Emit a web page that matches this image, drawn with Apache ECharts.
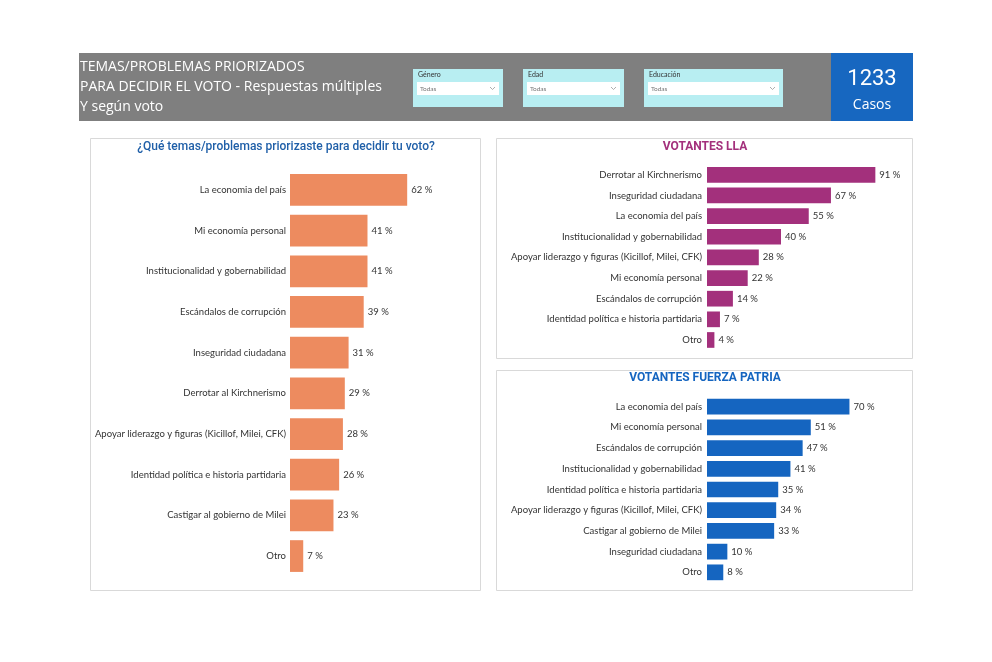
<!DOCTYPE html>
<html>
<head>
<meta charset="utf-8">
<script src="https://cdn.jsdelivr.net/npm/echarts@6/dist/echarts.min.js"></script>
<style>
html,body{margin:0;padding:0;background:#fff;}
#c{width:992px;height:662px;}
</style>
</head>
<body>
<div id="c"></div>
<script>
// ---- Data ----
var totalCategories = ["La economia del país","Mi economía personal","Institucionalidad y gobernabilidad","Escándalos de corrupción","Inseguridad ciudadana","Derrotar al Kirchnerismo","Apoyar liderazgo y figuras (Kicillof, Milei, CFK)","Identidad política e historia partidaria","Castigar al gobierno de Milei","Otro"];
var totalValues = [62,41,41,39,31,29,28,26,23,7];

var llaCategories = ["Derrotar al Kirchnerismo","Inseguridad ciudadana","La economia del país","Institucionalidad y gobernabilidad","Apoyar liderazgo y figuras (Kicillof, Milei, CFK)","Mi economía personal","Escándalos de corrupción","Identidad política e historia partidaria","Otro"];
var llaValues = [91,67,55,40,28,22,14,7,4];

var fpCategories = ["La economia del país","Mi economía personal","Escándalos de corrupción","Institucionalidad y gobernabilidad","Identidad política e historia partidaria","Apoyar liderazgo y figuras (Kicillof, Milei, CFK)","Castigar al gobierno de Milei","Inseguridad ciudadana","Otro"];
var fpValues = [70,51,47,41,35,34,33,10,8];

var filterLabels = ["Género","Edad","Educación"];
var filterValue = "Todas";
var casosCount = "1233";

// ---- Chart ----
var chart = echarts.init(document.getElementById('c'), null, {renderer:'canvas'});
var labelFont = 'Lato';
var titleFont = 'Roboto';

function yAx(idx, cats, margin){
  return {gridIndex:idx, type:'category', data:cats, inverse:true,
    axisLine:{show:false}, axisTick:{show:false},
    axisLabel:{margin:margin, fontSize:9.5, color:'#333', fontFamily:labelFont}};
}
function xAx(idx){
  return {gridIndex:idx, type:'value', min:0, max:100, show:false};
}
function ser(idx, vals, color, gap){
  return {type:'bar', xAxisIndex:idx, yAxisIndex:idx, data:vals, barCategoryGap:gap,
    itemStyle:{color:color}, silent:true,
    label:{show:true, position:'right', distance:4, formatter:'{c} %', fontSize:9.5, color:'#333', fontFamily:labelFont}};
}

var graphics = [
  {type:'rect', shape:{x:79,y:53,width:752,height:68}, style:{fill:'#7f7f7f'}, z:-10},
  {type:'text', left:80, top:57, style:{text:'TEMAS/PROBLEMAS PRIORIZADOS\nPARA DECIDIR EL VOTO - Respuestas múltiples\nY según voto', fill:'#fff', fontSize:14, lineHeight:20, fontFamily:'Open Sans'}},
  {type:'rect', shape:{x:831,y:53,width:82,height:68}, style:{fill:'#1767c0'}},
  {type:'text', x:872, y:79, style:{text:casosCount, fill:'#fff', fontSize:22, fontFamily:titleFont, align:'center', verticalAlign:'middle'}},
  {type:'text', x:872, y:105, style:{text:'Casos', fill:'#fff', fontSize:14, fontFamily:'Open Sans', align:'center', verticalAlign:'middle'}},
  // panels
  {type:'rect', shape:{x:90.5,y:138.5,width:390,height:452}, style:{fill:'#fff', stroke:'#d9d9d9', lineWidth:1}, z:-10},
  {type:'rect', shape:{x:496.5,y:138.5,width:416,height:220}, style:{fill:'#fff', stroke:'#d9d9d9', lineWidth:1}, z:-10},
  {type:'rect', shape:{x:496.5,y:370.5,width:416,height:220}, style:{fill:'#fff', stroke:'#d9d9d9', lineWidth:1}, z:-10},
  {type:'text', x:286, y:147, style:{text:'¿Qué temas/problemas priorizaste para decidir tu voto?', fill:'#1f5fa8', fontSize:12, fontWeight:500, fontFamily:titleFont, align:'center', verticalAlign:'middle'}},
  {type:'text', x:705, y:147, style:{text:'VOTANTES LLA', fill:'#a3307c', fontSize:12, fontWeight:'bold', fontFamily:titleFont, align:'center', verticalAlign:'middle'}},
  {type:'text', x:705, y:378, style:{text:'VOTANTES FUERZA PATRIA', fill:'#1565c0', fontSize:12, fontWeight:'bold', fontFamily:titleFont, align:'center', verticalAlign:'middle'}}
];
var filterBoxes = [[413,90],[523,101],[644,139]];
filterBoxes.forEach(function(b,i){
  var x=b[0], w=b[1];
  graphics.push({type:'rect', shape:{x:x,y:69,width:w,height:38}, style:{fill:'#b8eef2'}});
  graphics.push({type:'text', x:x+5, y:75, style:{text:filterLabels[i], fill:'#333', fontSize:7, fontFamily:labelFont, verticalAlign:'middle'}});
  graphics.push({type:'rect', shape:{x:x+4,y:82,width:w-8,height:13}, style:{fill:'#fff'}});
  graphics.push({type:'text', x:x+7, y:88.5, style:{text:filterValue, fill:'#777', fontSize:6.5, fontFamily:labelFont, verticalAlign:'middle'}});
  graphics.push({type:'polyline', shape:{points:[[x+w-13,87],[x+w-10.5,89.5],[x+w-8,87]]}, style:{stroke:'#999', lineWidth:0.8, fill:null}});
});

var option = {
  animation:false,
  backgroundColor:'#fff',
  grid:[
    {left:290, top:169.6, width:189, height:406.8},
    {left:707, top:164.5, width:185, height:185.8},
    {left:707, top:396.3, width:203.5, height:186.4}
  ],
  xAxis:[xAx(0), xAx(1), xAx(2)],
  yAxis:[yAx(0,totalCategories,4), yAx(1,llaCategories,5), yAx(2,fpCategories,5)],
  series:[
    ser(0,totalValues,'#ed8b5f','22%'),
    ser(1,llaValues,'#a3307c','24%'),
    ser(2,fpValues,'#1565c0','24%')
  ],
  graphic:graphics
};
chart.setOption(option);
</script>
</body>
</html>
